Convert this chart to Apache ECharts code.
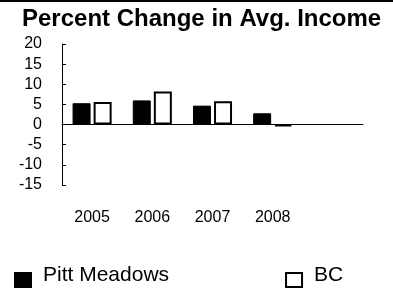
<!DOCTYPE html>
<html>
<head>
<meta charset="utf-8">
<script src="https://cdn.jsdelivr.net/npm/echarts@6/dist/echarts.min.js"></script>
<style>
  html, body { margin: 0; padding: 0; background: #fff; }
  #chart { width: 393px; height: 288px; }
</style>
</head>
<body>
<div id="chart"></div>
<script>
// years on the x axis (last slot is left empty, like the original)
const years = ['2005', '2006', '2007', '2008', '']
const pittMeadows = [5.3, 6.0, 4.7, 2.8, null]
const bc = [5.6, 8.2, 5.8, -0.4, null]

const font = 'Liberation Sans, Arial, sans-serif'

const chart = echarts.init(document.getElementById('chart'))

// legend square sits a bit lower than its text: the lone moveTo keeps the
// empty space above the square inside the symbol box
const legendIcon = 'path://M0,0 M0,10 L16,10 L16,24 L0,24 Z'

const options = {
  animation: false,
  // thin black rule along the top edge
  graphic: [
    { type: 'rect', left: 0, top: 0, shape: { width: 393, height: 2 }, style: { fill: '#000' } }
  ],
  title: {
    text: 'Percent Change in Avg. Income',
    left: 17,
    top: 2,
    textStyle: { fontFamily: font, fontSize: 24, fontWeight: 'bold', color: '#000' }
  },
  legend: {
    left: 14,
    top: 262,
    padding: 0,
    itemWidth: 16,
    itemHeight: 24,
    itemGap: 116,
    icon: legendIcon,
    textStyle: { fontFamily: font, fontSize: 21, color: '#000', padding: [0, 0, 0, 7] },
    data: ['Pitt Meadows', 'BC']
  },
  grid: {
    left: 62,
    right: 30,
    top: 44,
    bottom: 103
  },
  xAxis: [
    {
      type: 'category',
      data: years,
      axisLine: { onZero: true, lineStyle: { color: '#000', width: 1 } },
      axisTick: { show: false },
      axisLabel: { show: false }
    },
    {
      // second axis only for the labels at the bottom
      type: 'category',
      data: years,
      position: 'bottom',
      axisLine: { show: false },
      axisTick: { show: false },
      axisLabel: { margin: 25, fontFamily: font, fontSize: 16, color: '#000' }
    }
  ],
  yAxis: {
    type: 'value',
    min: -15,
    max: 20,
    interval: 5,
    axisLine: { show: true, lineStyle: { color: '#000', width: 1 } },
    axisTick: { show: true, inside: true, length: 4, lineStyle: { color: '#000' } },
    splitLine: { show: false },
    axisLabel: { margin: 20, fontFamily: font, fontSize: 16, color: '#000' }
  },
  series: [
    {
      name: 'Pitt Meadows',
      type: 'bar',
      data: pittMeadows,
      barWidth: 18,
      barGap: '17%',
      itemStyle: { color: '#000', borderColor: '#000', borderWidth: 1 }
    },
    {
      name: 'BC',
      type: 'bar',
      data: bc,
      barWidth: 18,
      itemStyle: { color: '#fff', borderColor: '#000', borderWidth: 2 }
    }
  ]
}

chart.setOption(options)
</script>
</body>
</html>
